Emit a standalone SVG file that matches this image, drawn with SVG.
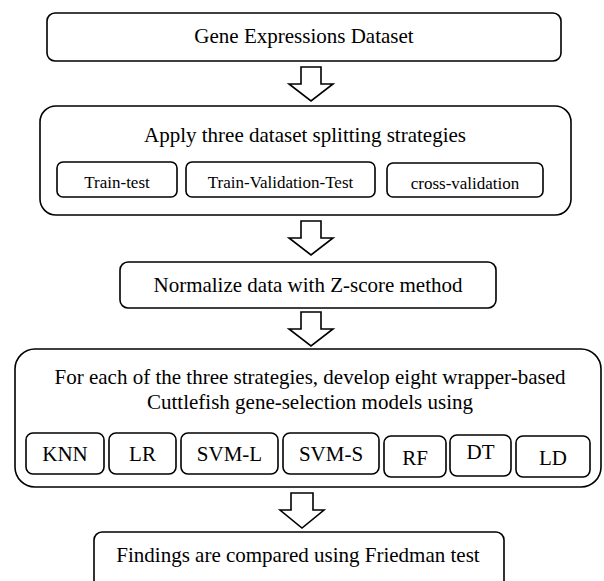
<svg xmlns="http://www.w3.org/2000/svg" width="604" height="581" viewBox="0 0 604 581">
<style>
.b{fill:#fff;stroke:#000;stroke-width:1.6}
.t{font-family:'Liberation Serif','DejaVu Serif',serif;font-size:21px;fill:#000;text-anchor:middle}
.s{font-size:17px}
.a{fill:#fff;stroke:#000;stroke-width:1.6;stroke-linejoin:miter}
</style>
<rect width="604" height="581" fill="#fff"/>
<g id="n1"><rect class="b" x="47" y="13" width="514" height="48" rx="8"/><text class="t" x="304" y="43" font-family="Liberation Serif, serif">Gene Expressions Dataset</text></g>
<g id="n2"><rect class="b" x="40" y="106" width="531" height="109" rx="16"/><text class="t" x="305" y="142">Apply three dataset splitting strategies</text>
<g id="n2a"><rect class="b" x="57" y="162" width="120" height="35" rx="6"/><text class="t s" x="117" y="188">Train-test</text></g>
<g id="n2b"><rect class="b" x="186" y="162" width="189" height="35" rx="6"/><text class="t s" x="280.5" y="188">Train-Validation-Test</text></g>
<g id="n2c"><rect class="b" x="387" y="163" width="156" height="34" rx="6"/><text class="t s" x="465" y="189">cross-validation</text></g>
</g>
<g id="n3"><rect class="b" x="120" y="262" width="376" height="46" rx="8"/><text class="t" x="308" y="292">Normalize data with Z-score method</text></g>
<g id="n4"><rect class="b" x="15" y="349" width="586" height="138" rx="20"/>
<text class="t" x="310" y="384">For each of the three strategies, develop eight wrapper-based</text>
<text class="t" x="310" y="409">Cuttlefish gene-selection models using</text>
<g id="m1"><rect class="b" x="26" y="433" width="78" height="41" rx="7"/><text class="t" x="65" y="461">KNN</text></g>
<g id="m2"><rect class="b" x="109" y="433" width="67" height="41" rx="7"/><text class="t" x="142.5" y="461">LR</text></g>
<g id="m3"><rect class="b" x="181" y="433" width="97" height="41" rx="7"/><text class="t" x="229.5" y="461">SVM-L</text></g>
<g id="m4"><rect class="b" x="283" y="433" width="96" height="41" rx="7"/><text class="t" x="331" y="461">SVM-S</text></g>
<g id="m5"><rect class="b" x="384" y="436" width="62" height="41" rx="7"/><text class="t" x="415" y="465">RF</text></g>
<g id="m6"><rect class="b" x="450" y="435" width="61" height="41" rx="7"/><text class="t" x="480.5" y="459">DT</text></g>
<g id="m7"><rect class="b" x="516" y="436" width="74" height="41" rx="7"/><text class="t" x="553" y="465">LD</text></g>
</g>
<g id="n5"><rect class="b" x="94" y="532" width="410" height="60" rx="8"/><text class="t" x="298" y="562">Findings are compared using Friedman test</text></g>
<g id="connectors">
<polygon class="a" points="301,67 321,67 321,84 333,84 311,101 289,84 301,84"/>
<polygon class="a" points="301,221 321,221 321,238 333,238 311,255 289,238 301,238"/>
<polygon class="a" points="301,312 321,312 321,329 333,329 311,346 289,329 301,329"/>
<polygon class="a" points="291,493 313,493 313,510 324,510 302,528 280,510 291,510"/>
</g>
</svg>
